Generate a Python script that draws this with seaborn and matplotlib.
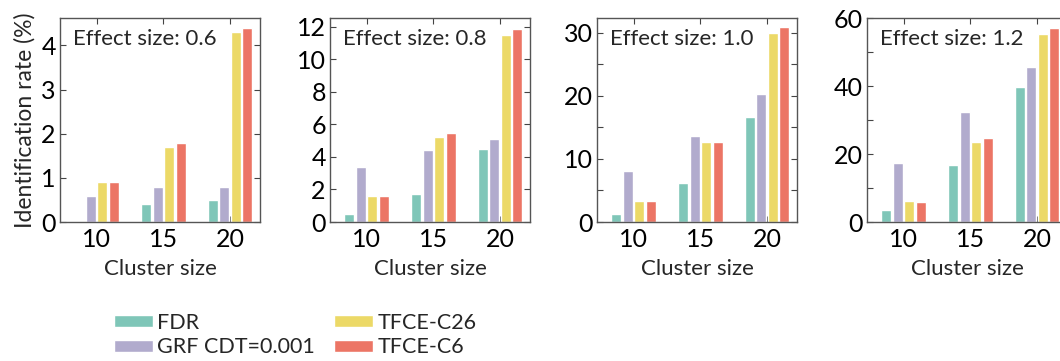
import numpy as np
import pandas as pd
import matplotlib
matplotlib.use("Agg")
import matplotlib.pyplot as plt
from matplotlib.ticker import MultipleLocator
import seaborn as sns

sns.set_style("white")
plt.rcParams["font.family"] = ["Lato", "DejaVu Sans"]

# Cluster sizes on the x axis and the four correction methods
cluster_sizes = ["10", "15", "20"]
methods = ["FDR", "GRF CDT=0.001", "TFCE-C26", "TFCE-C6"]
effect_sizes = ["0.6", "0.8", "1.0", "1.2"]

# Identification rate (%) per method, one value per cluster size
rate_es06 = {
    "FDR": [0.0, 0.4, 0.5],
    "GRF CDT=0.001": [0.6, 0.8, 0.8],
    "TFCE-C26": [0.9, 1.7, 4.3],
    "TFCE-C6": [0.9, 1.8, 4.4],
}
rate_es08 = {
    "FDR": [0.5, 1.7, 4.5],
    "GRF CDT=0.001": [3.4, 4.4, 5.1],
    "TFCE-C26": [1.6, 5.2, 11.5],
    "TFCE-C6": [1.6, 5.5, 11.9],
}
rate_es10 = {
    "FDR": [1.3, 6.2, 16.6],
    "GRF CDT=0.001": [8.0, 13.6, 20.2],
    "TFCE-C26": [3.4, 12.6, 29.9],
    "TFCE-C6": [3.4, 12.7, 30.8],
}
rate_es12 = {
    "FDR": [3.5, 16.7, 39.7],
    "GRF CDT=0.001": [17.5, 32.3, 45.6],
    "TFCE-C26": [6.1, 23.4, 55.3],
    "TFCE-C6": [6.0, 24.6, 57.2],
}
rates = [rate_es06, rate_es08, rate_es10, rate_es12]

palette = ["#7fc6b8", "#b1abcd", "#ecd967", "#ec7565"]

# y-axis limits, major and minor tick steps per panel
y_top = [4.62, 12.55, 32.3, 60]
y_major = [1, 2, 10, 20]
y_minor = [1, 2, 5, 10]

fig = plt.figure(figsize=(10.6, 3.61), dpi=100)
lefts = [60, 330, 597, 867]
W, H = 1060, 361
ax_w, ax_b, ax_t = 200, 222, 18

axes = []
for i, (es, data) in enumerate(zip(effect_sizes, rates)):
    ax = fig.add_axes([lefts[i] / W, 1 - ax_b / H, ax_w / W, (ax_b - ax_t) / H])
    axes.append(ax)
    df = pd.DataFrame(
        [
            {"Cluster size": cs, "Method": m, "Rate": data[m][j]}
            for m in methods
            for j, cs in enumerate(cluster_sizes)
        ]
    )
    sns.barplot(
        data=df, x="Cluster size", y="Rate", hue="Method",
        order=cluster_sizes, hue_order=methods, palette=palette,
        width=0.69, gap=0.13, ax=ax, legend=(i == 0), saturation=1,
    )
    ax.set_xlim(-0.55, 2.45)
    ax.set_ylim(0, y_top[i])
    ax.yaxis.set_major_locator(MultipleLocator(y_major[i]))
    ax.yaxis.set_minor_locator(MultipleLocator(y_minor[i]))
    ax.tick_params(axis="both", which="both", direction="in",
                   top=True, right=True, left=True, bottom=True,
                   colors="#444444", labelcolor="black", labelsize=18)
    ax.tick_params(which="major", length=4, width=0.8)
    ax.tick_params(which="minor", length=4, width=0.8)
    ax.tick_params(axis="x", pad=4)
    ax.tick_params(axis="y", pad=3)
    for s in ax.spines.values():
        s.set_color("#555555")
        s.set_linewidth(1.0)
        s.set_visible(True)
    ax.set_xlabel("Cluster size", fontsize=16, labelpad=6)
    if i == 0:
        ax.set_ylabel("Identification rate (%)", fontsize=16.5, labelpad=4)
    else:
        ax.set_ylabel("")
    ax.text(0.065, 0.945, f"Effect size: {es}", transform=ax.transAxes,
            ha="left", va="top", fontsize=16)

handles, labels = axes[0].get_legend_handles_labels()
axes[0].get_legend().remove()
fig.legend(
    handles, labels, loc="upper left", bbox_to_anchor=(114 / W, 1 - 313 / H),
    ncol=2, frameon=False, fontsize=15.5, handlelength=1.8, handleheight=0.5,
    handletextpad=0.2, labelspacing=0.2, columnspacing=0.9,
    borderpad=0, borderaxespad=0,
)

fig.savefig("out.png", dpi=100)
